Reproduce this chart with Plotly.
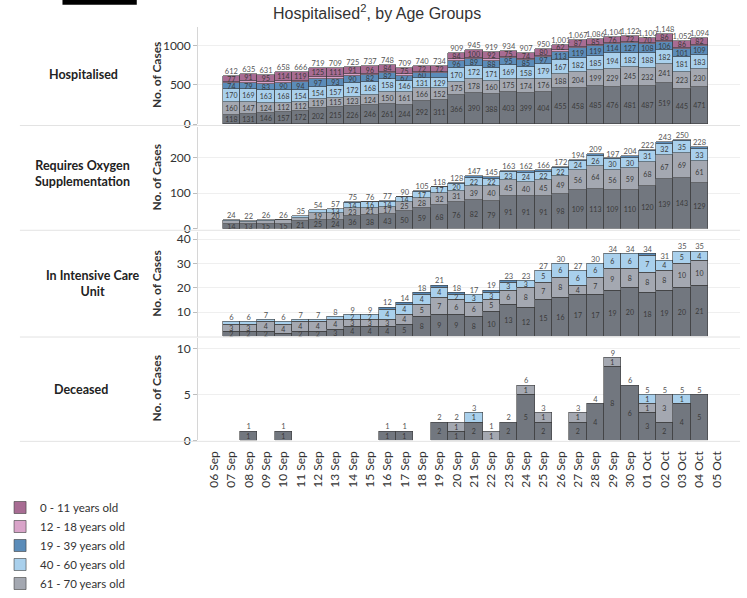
import plotly.graph_objects as go
from plotly.subplots import make_subplots

W, H = 747, 598

# ---------------- data ----------------
dates = ["06 Sep", "07 Sep", "08 Sep", "09 Sep", "10 Sep", "11 Sep", "12 Sep", "13 Sep",
         "14 Sep", "15 Sep", "16 Sep", "17 Sep", "18 Sep", "19 Sep", "20 Sep", "21 Sep",
         "22 Sep", "23 Sep", "24 Sep", "25 Sep", "26 Sep", "27 Sep", "28 Sep", "29 Sep",
         "30 Sep", "01 Oct", "02 Oct", "03 Oct", "04 Oct", "05 Oct"]
data_dates = dates[1:29]

age_groups = ["71 years old & above", "61 - 70 years old", "40 - 60 years old",
              "19 - 39 years old", "12 - 18 years old", "0 - 11 years old"]
age_colors = ["#72777f", "#a4a8b1", "#a9d0ec", "#5b8cb9", "#d9a4c9", "#a86c93"]

# Hospitalised
hosp_71 = [118, 131, 146, 157, 172, 202, 215, 226, 246, 261, 244, 292, 311, 366, 390, 388, 403, 399, 404, 455, 458, 485, 476, 481, 487, 519, 445, 471]
hosp_61 = [160, 147, 124, 112, 112, 119, 115, 123, 124, 150, 161, 166, 152, 175, 178, 160, 175, 174, 176, 188, 204, 199, 229, 245, 232, 241, 223, 230]
hosp_40 = [170, 169, 163, 168, 154, 154, 157, 172, 168, 158, 146, 131, 129, 170, 172, 171, 169, 158, 179, 167, 182, 185, 194, 182, 188, 182, 181, 183]
hosp_19 = [74, 79, 83, 90, 94, 97, 93, 90, 82, 82, 67, 60, 55, 96, 89, 88, 95, 85, 97, 113, 119, 119, 114, 127, 108, 106, 101, 109]
hosp_12 = [13, 18, 20, 17, 15, 22, 18, 23, 21, 13, 16, 19, 15, 18, 16, 20, 17, 17, 14, 16, 17, 13, 15, 15, 15, 14, 16, 19]
hosp_0 = [77, 91, 95, 114, 119, 125, 111, 91, 96, 84, 75, 72, 72, 84, 100, 92, 75, 74, 80, 62, 87, 85, 76, 72, 70, 86, 86, 82]

# Requires oxygen supplementation
oxy_71 = [14, 13, 15, 15, 21, 25, 24, 36, 38, 43, 50, 59, 68, 76, 82, 79, 91, 91, 91, 98, 109, 113, 109, 110, 120, 139, 143, 129]
oxy_61 = [8, 7, 8, 9, 10, 19, 20, 23, 21, 17, 25, 28, 32, 31, 39, 40, 45, 40, 45, 49, 56, 64, 56, 59, 68, 67, 69, 61]
oxy_40 = [2, 2, 3, 2, 4, 10, 13, 14, 16, 14, 14, 17, 17, 20, 22, 22, 23, 24, 22, 22, 24, 26, 30, 30, 31, 32, 35, 33]
oxy_19 = [0, 0, 0, 0, 0, 0, 0, 2, 1, 3, 1, 1, 1, 1, 4, 4, 4, 7, 8, 3, 5, 6, 2, 5, 3, 5, 3, 5]

# In intensive care unit
icu_71 = [2, 2, 2, 1, 2, 2, 3, 4, 4, 4, 5, 8, 9, 9, 8, 10, 13, 12, 15, 16, 17, 17, 19, 20, 18, 19, 20, 21]
icu_61 = [3, 3, 4, 4, 4, 4, 4, 3, 3, 3, 4, 5, 7, 6, 6, 5, 6, 8, 7, 8, 4, 7, 9, 8, 8, 8, 10, 10]
icu_40 = [1, 1, 1, 1, 1, 1, 1, 2, 2, 4, 4, 4, 4, 2, 3, 3, 3, 3, 5, 6, 6, 6, 6, 6, 7, 4, 5, 4]
icu_19 = [0, 0, 0, 0, 0, 0, 0, 0, 0, 1, 1, 1, 1, 1, 0, 1, 1, 0, 0, 0, 0, 0, 0, 0, 1, 0, 0, 0]

# Deceased
dec_71 = [0, 1, 0, 1, 0, 0, 0, 0, 0, 1, 1, 0, 2, 1, 2, 0, 2, 5, 2, 0, 2, 4, 8, 6, 3, 2, 4, 5]
dec_61 = [0, 0, 0, 0, 0, 0, 0, 0, 0, 0, 0, 0, 0, 1, 0, 1, 0, 1, 1, 0, 1, 0, 1, 0, 1, 3, 0, 0]
dec_40 = [0, 0, 0, 0, 0, 0, 0, 0, 0, 0, 0, 0, 0, 0, 1, 0, 0, 0, 0, 0, 0, 0, 0, 0, 1, 0, 1, 0]

panel_titles = ["Hospitalised", "Requires Oxygen<br>Supplementation", "In Intensive Care<br>Unit", "Deceased"]
panels = [
    [hosp_71, hosp_61, hosp_40, hosp_19, hosp_12, hosp_0],
    [oxy_71, oxy_61, oxy_40, oxy_19],
    [icu_71, icu_61, icu_40, icu_19],
    [dec_71, dec_61, dec_40],
]
y_ranges = [[0, 1235], [0, 285], [0, 43], [0, 11.2]]
y_ticks = [[0, 500, 1000], [0, 100, 200], [10, 20, 30, 40], [0, 5, 10]]

# ---------------- layout helpers (pixels -> paper) ----------------
def fx(p):
    return p / W

def fy(p):
    return 1 - p / H

row_px = [(28, 129), (132, 238), (241, 350), (351, 458)]

fig = make_subplots(rows=4, cols=1, shared_xaxes=True, vertical_spacing=0.0)

for r, series in enumerate(panels, start=1):
    top, bot = row_px[r - 1]
    px_per_unit = (bot - top) / (y_ranges[r - 1][1] - y_ranges[r - 1][0])
    totals = [sum(v) for v in zip(*series)]
    for gi, vals in enumerate(series):
        fig.add_trace(go.Bar(
            x=data_dates,
            y=[v if v else None for v in vals],
            text=[str(v) if v and v * px_per_unit >= 4.5 else "" for v in vals],
            textposition="inside",
            insidetextanchor="middle",
            textangle=0,
            textfont=dict(size=7, color="#3a3a3a", family="Lato"),
            marker=dict(color=age_colors[gi], line=dict(color="#3c3c3c", width=0.6)),
            name=age_groups[gi],
            legendgroup=age_groups[gi],
            showlegend=(r == 1 and gi > 0),
            hoverinfo="skip",
        ), row=r, col=1)
    fig.add_trace(go.Scatter(
        x=data_dates,
        y=[t if t else None for t in totals],
        mode="text",
        text=[f"{t:,}" if t else "" for t in totals],
        textposition="top center",
        textfont=dict(size=7.5, color="#555555", family="Lato"),
        showlegend=False,
        hoverinfo="skip",
        cliponaxis=False,
    ), row=r, col=1)

fig.update_layout(
    width=W, height=H,
    margin=dict(l=0, r=0, t=0, b=0),
    paper_bgcolor="white", plot_bgcolor="white",
    barmode="stack", bargap=0,
    uniformtext=dict(minsize=7, mode="show"),
    font=dict(family="Lato", color="#333333", size=12),
    legend=dict(x=fx(-7), y=fy(513), xanchor="left", yanchor="top",
                traceorder="reversed", font=dict(size=11.5, color="#333333", family="Lato"),
                bgcolor="rgba(0,0,0,0)", itemwidth=30, tracegroupgap=0),
)

for r in range(1, 5):
    top, bot = row_px[r - 1]
    xa = "xaxis" if r == 1 else f"xaxis{r}"
    ya = "yaxis" if r == 1 else f"yaxis{r}"
    fig.layout[xa].update(
        domain=[fx(193), fx(740)],
        type="category", categoryorder="array", categoryarray=dates,
        range=[-0.914, 30.34],
        showgrid=False, zeroline=False, showline=False,
        showticklabels=(r == 4),
        ticks="outside" if r == 4 else "", ticklen=5, tickcolor="rgba(0,0,0,0)",
        tickangle=-90, tickfont=dict(size=12, color="#333333", family="Lato"),
    )
    fig.layout[ya].update(
        domain=[fy(bot), fy(top)],
        range=y_ranges[r - 1],
        tickvals=y_ticks[r - 1],
        showgrid=True, gridcolor="#efefef", zeroline=False,
        showline=True, linecolor="#d6d6d6", linewidth=1,
        ticks="outside", ticklen=4, tickcolor="#bdbdbd",
        tickfont=dict(size=12, color="#333333", family="Lato"),
    )
    # aligned y-axis titles
    fig.add_annotation(x=fx(151), y=fy((top + bot) / 2), xref="paper", yref="paper",
                       text="<b>No. of Cases</b>", textangle=-90, showarrow=False,
                       xanchor="center", yanchor="middle",
                       font=dict(size=12, color="#333333", family="Lato"))

# Row labels
label_pos = [(77, 77), (76, 180), (86, 295), (75, 405)]
for (lx, ly), txt in zip(label_pos, panel_titles):
    fig.add_annotation(x=fx(lx), y=fy(ly), xref="paper", yref="paper", text=f"<b>{txt}</b>",
                       xanchor="center", yanchor="middle",
                       showarrow=False, font=dict(size=12.5, color="#222222", family="Lato"),
                       align="center")

# Separators
for yp in [130.5, 239.5, 350.5, 459]:
    fig.add_shape(type="line", xref="paper", yref="paper", x0=fx(13), x1=fx(740), y0=fy(yp), y1=fy(yp),
                  line=dict(color="#e3e3e3", width=1))

# Title
fig.add_annotation(x=fx(373), y=fy(12), xref="paper", yref="paper",
                   xanchor="center", yanchor="middle",
                   text="Hospitalised<sup>2</sup>, by Age Groups", showarrow=False,
                   font=dict(size=16, color="#333333", family="Liberation Sans"))
fig.add_shape(type="rect", xref="paper", yref="paper", x0=fx(56), x1=fx(131), y0=fy(5), y1=fy(0),
              fillcolor="black", line=dict(width=0))

fig.write_html("out.html", config={"displayModeBar": False},
               post_script="document.body.style.margin='0';")
